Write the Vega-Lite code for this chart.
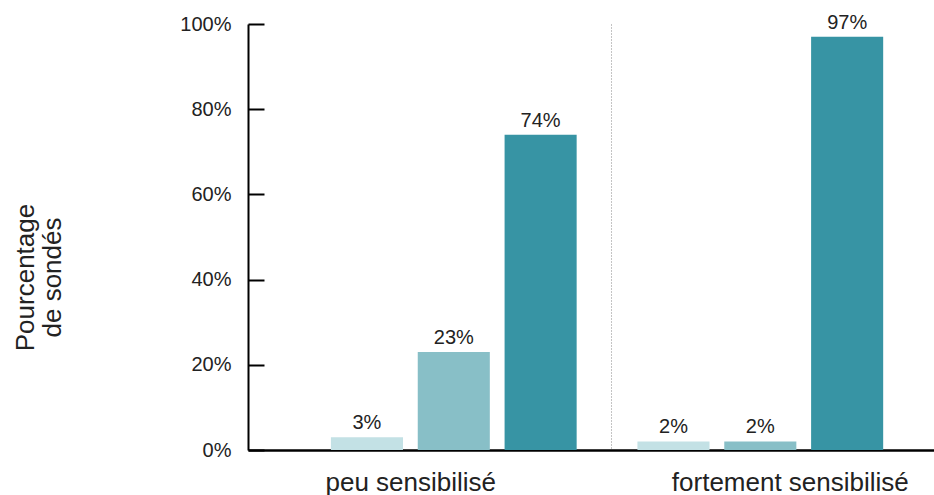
{
  "$schema": "https://vega.github.io/schema/vega-lite/v6.json",
  "width": 686,
  "height": 426,
  "autosize": {"type": "none"},
  "padding": {"left": 248, "top": 24, "right": 0, "bottom": 45},
  "background": "white",
  "config": {
    "view": {"stroke": null},
    "font": "Liberation Sans"
  },
  "data": {
    "values": [
      {"groupe": "peu sensibilisé", "serie": "A", "pct": 3},
      {"groupe": "peu sensibilisé", "serie": "B", "pct": 23},
      {"groupe": "peu sensibilisé", "serie": "C", "pct": 74},
      {"groupe": "fortement sensibilisé", "serie": "A", "pct": 2},
      {"groupe": "fortement sensibilisé", "serie": "B", "pct": 2},
      {"groupe": "fortement sensibilisé", "serie": "C", "pct": 97}
    ]
  },
  "encoding": {
    "x": {
      "field": "groupe",
      "type": "nominal",
      "sort": ["peu sensibilisé", "fortement sensibilisé"],
      "scale": {"paddingInner": 0, "paddingOuter": 0.119, "align": 0.72},
      "axis": {
        "title": null,
        "ticks": false,
        "labelAngle": 0,
        "labelLimit": 0,
        "labelFontSize": 26,
        "labelColor": "#222222",
        "labelPadding": 19,
        "labelOffset": {"condition": {"test": "datum.value === 'peu sensibilisé'", "value": -43}, "value": 30},
        "domainColor": "#000000",
        "domainWidth": 2.5,
        "grid": true,
        "bandPosition": 0.016,
        "gridColor": "#888888",
        "gridDash": [1, 2],
        "gridWidth": 1,
        "gridOpacity": {"condition": {"test": "datum.value === 'fortement sensibilisé'", "value": 1}, "value": 0}
      }
    },
    "xOffset": {
      "field": "serie",
      "type": "nominal",
      "scale": {"paddingInner": 0.17, "paddingOuter": 0.35}
    },
    "y": {
      "field": "pct",
      "type": "quantitative",
      "scale": {"domain": [0, 100], "nice": false},
      "axis": {
        "values": [0, 20, 40, 60, 80, 100],
        "labelExpr": "datum.value + '%'",
        "grid": false,
        "tickSize": -16,
        "tickWidth": 2,
        "tickColor": "#000000",
        "labelPadding": 33,
        "labelFontSize": 20,
        "labelColor": "#222222",
        "domainColor": "#000000",
        "domainWidth": 2,
        "title": ["Pourcentage", "de sondés"],
        "titleFontSize": 26,
        "titleFontWeight": "normal",
        "titleColor": "#222222",
        "titleX": -223,
        "titleY": 253,
        "titleAlign": "center",
        "titleBaseline": "middle",
        "titleAngle": -90,
        "titleLineHeight": 27
      }
    }
  },
  "layer": [
    {
      "mark": {"type": "bar"},
      "encoding": {
        "color": {
          "field": "serie",
          "type": "nominal",
          "legend": null,
          "scale": {"domain": ["A", "B", "C"], "range": ["#c3e1e5", "#88bfc7", "#3794a4"]}
        }
      }
    },
    {
      "transform": [{"calculate": "datum.pct + '%'", "as": "etiquette"}],
      "mark": {"type": "text", "baseline": "bottom", "dy": -4, "fontSize": 20, "color": "#222222"},
      "encoding": {
        "text": {"field": "etiquette", "type": "nominal"}
      }
    }
  ]
}
